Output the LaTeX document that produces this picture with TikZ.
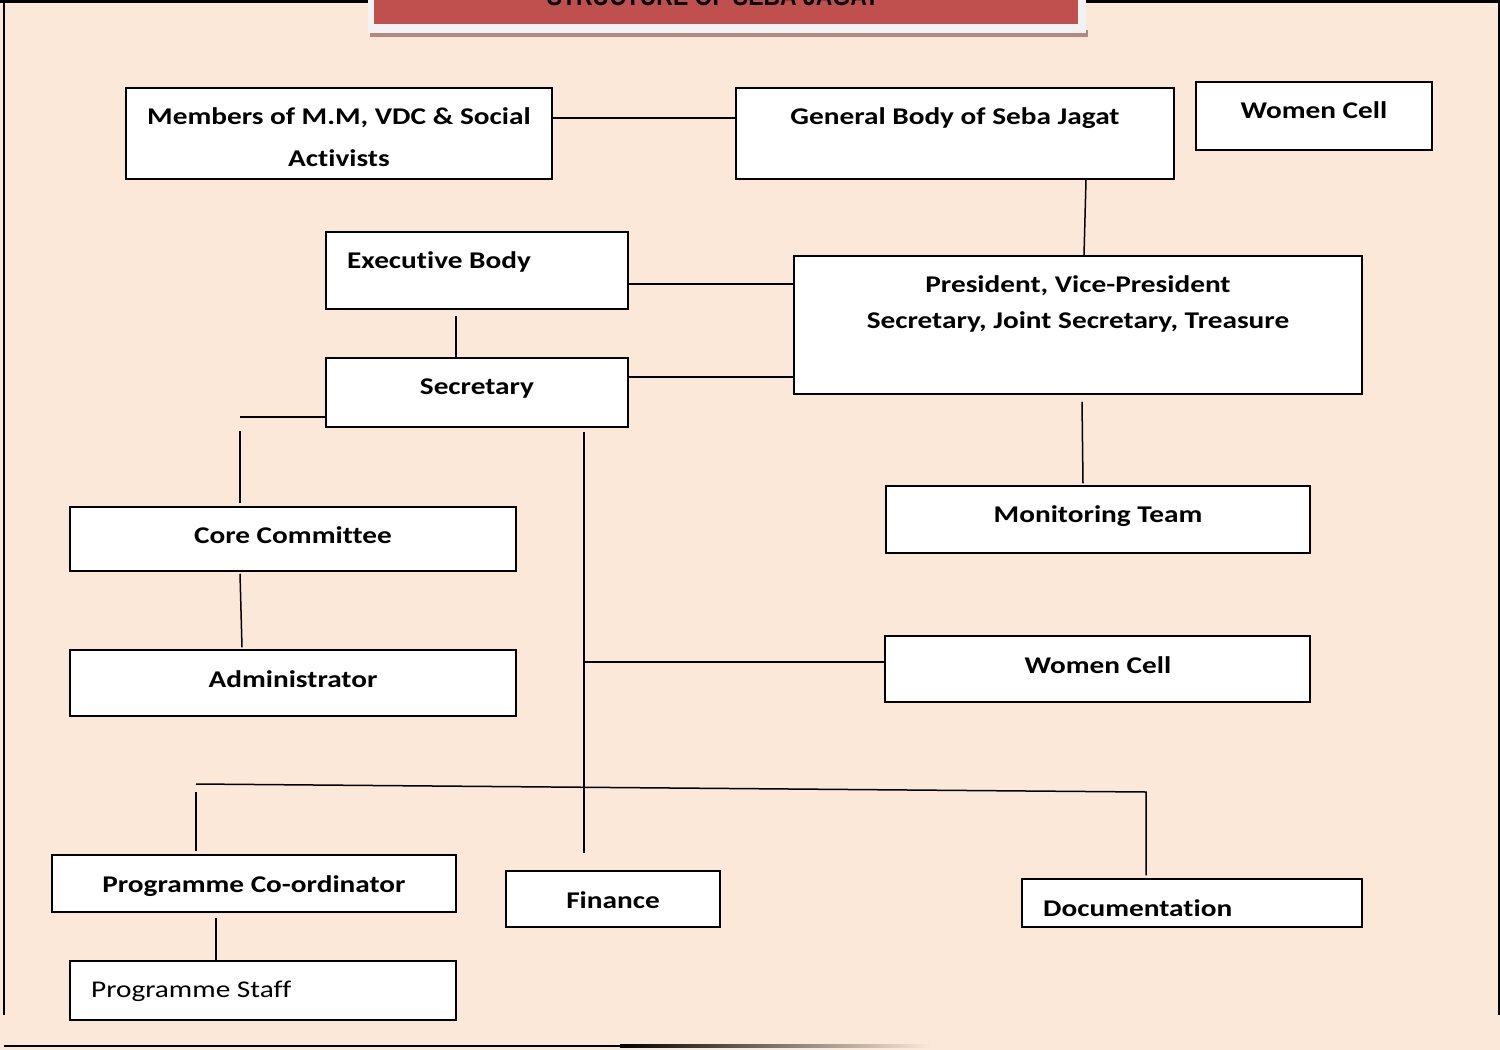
\documentclass[tikz,border=0pt]{standalone}
\usepackage{fontspec}
\setmainfont{Carlito}[FakeStretch=1.22, Ligatures=NoCommon]
\newfontfamily\headfont{Liberation Sans}[FakeStretch=0.85]
\usepackage{tikz}
\definecolor{pagebg}{HTML}{FCE8D9}
\definecolor{headred}{HTML}{C0504D}
\definecolor{headframe}{HTML}{F2F2F2}
\definecolor{headshadow}{HTML}{B5877F}

\begin{document}
\begin{tikzpicture}[x=1pt, y=-1pt,
        orgbox/.style={draw, line width=1.5pt, fill=white, inner sep=0pt},
        lbl/.style={font=\fontsize{24}{42}\selectfont\bfseries, inner sep=0pt},
        link/.style={line width=1.5pt}]
    \useasboundingbox (0,0) rectangle (1500,1050);
    \clip (0,0) rectangle (1500,1050);
    % page
    \fill[pagebg] (0,0) rectangle (1500,1050);
    \draw[line width=2.5pt] (0,1.5) -- (1500,1.5);
    \draw[line width=2pt] (4,0) -- (4,1015);
    \draw[line width=2pt] (1498.5,0) -- (1498.5,1015);
    \fill[black] (4,1044.5) rectangle (620,1047);
    \shade[left color=black, right color=pagebg] (620,1044.5) rectangle (930,1047);
    % title band
    \fill[headshadow] (370,30) rectangle (1088,37);
    \fill[headframe] (368,-2) rectangle (1086,33);
    \fill[headred] (374,-2) rectangle (1078,24);
    \node[font=\headfont\fontsize{27}{30}\selectfont\bfseries, anchor=base, inner sep=0pt] (title) at (713,5) {STRUCTURE OF SEBA JAGAT};

    % boxes
    \node[orgbox, minimum width=426, minimum height=91] (mem) at (339,133.5) {};
    \node[orgbox, minimum width=438, minimum height=91] (gen) at (955,133.5) {};
    \node[orgbox, minimum width=236, minimum height=68] (wtop) at (1314,116) {};
    \node[orgbox, minimum width=302, minimum height=77] (exec) at (477,270.5) {};
    \node[orgbox, minimum width=568, minimum height=138] (pres) at (1078,325) {};
    \node[orgbox, minimum width=302, minimum height=69] (sec) at (477,392.5) {};
    \node[orgbox, minimum width=424, minimum height=67] (mon) at (1098,519.5) {};
    \node[orgbox, minimum width=446, minimum height=64] (core) at (293,539) {};
    \node[orgbox, minimum width=446, minimum height=66] (adm) at (293,683) {};
    \node[orgbox, minimum width=425, minimum height=66] (wmid) at (1097.5,669) {};
    \node[orgbox, minimum width=404, minimum height=57] (prco) at (254,883.5) {};
    \node[orgbox, minimum width=214, minimum height=56] (fin) at (613,899) {};
    \node[orgbox, minimum width=340, minimum height=48] (doc) at (1192,903) {};
    \node[orgbox, minimum width=386, minimum height=59] (staff) at (263,990.5) {};

    % labels
    \node[lbl, anchor=base, align=center] (memt) at (339,166) {Members of M.M, VDC \& Social\\Activists};
    \node[lbl, anchor=base] (gent) at (955,124) {General Body of Seba Jagat};
    \node[lbl, anchor=base] (wtopt) at (1314,118) {Women Cell};
    \node[lbl, anchor=base west] (exect) at (347,268) {Executive Body};
    \node[lbl, anchor=base, align=center, font=\fontsize{24}{36}\selectfont\bfseries] (prest) at (1078,328) {President, Vice-President\\Secretary, Joint Secretary, Treasure};
    \node[lbl, anchor=base] (sect) at (477,394) {Secretary};
    \node[lbl, anchor=base] (mont) at (1098,522) {Monitoring Team};
    \node[lbl, anchor=base] (coret) at (293,543) {Core Committee};
    \node[lbl, anchor=base] (admt) at (293,687) {Administrator};
    \node[lbl, anchor=base] (wmidt) at (1098,673) {Women Cell};
    \node[lbl, anchor=base] (prcot) at (254,892) {Programme Co-ordinator};
    \node[lbl, anchor=base] (fint) at (613,908) {Finance};
    \node[lbl, anchor=base west] (doct) at (1043,916) {Documentation};
    \node[lbl, anchor=base west, font=\fontsize{24}{42}\selectfont] (stafft) at (91,997) {Programme Staff};

    % connectors
    \draw[link] ([yshift=15.5pt]mem.east) -- ([yshift=15.5pt]gen.west);
    \draw[link] ([xshift=131pt]gen.south) -- ([xshift=6pt]pres.north);
    \draw[link] ([yshift=-13.5pt]exec.east) coordinate (ep) -- (ep -| pres.west);
    \draw[link] ([yshift=15.5pt]sec.east) coordinate (sp) -- (sp -| pres.west);
    \draw[link] ([xshift=-21pt,yshift=-6pt]exec.south) coordinate (es) -- (es |- sec.north);
    \coordinate (lj) at (240,417);
    \draw[link] ([yshift=-24.5pt]sec.west) -- (lj);
    \draw[link] (240,431) coordinate (lc) -- ([yshift=3pt]lc |- core.north);
    \draw[link] ([xshift=-53pt,yshift=-2pt]core.south) -- ([xshift=-51pt,yshift=2pt]adm.north);
    \draw[link] ([xshift=4pt,yshift=-7pt]pres.south) -- ([xshift=-15pt,yshift=2pt]mon.north);
    \coordinate (spine) at (584,853);
    \draw[link] ([xshift=107pt,yshift=-4pt]sec.south) coordinate (st) -- (spine);
    \draw[link] ([yshift=7pt]wmid.west) coordinate (wp) -- (wp -| st);
    \coordinate (barL) at (196,784);
    \coordinate (barR) at (1146,792);
    \draw[link] (barL) -- (barR) -- ([xshift=-46pt,yshift=3pt]doc.north);
    \draw[link] ([xshift=-58pt,yshift=3pt]prco.north) coordinate (pc) -- ([yshift=-8pt]barL |- pc |- barL);
    \draw[link] ([xshift=-38pt,yshift=-5pt]prco.south) coordinate (ps) -- (ps |- staff.north);
\end{tikzpicture}
\end{document}
